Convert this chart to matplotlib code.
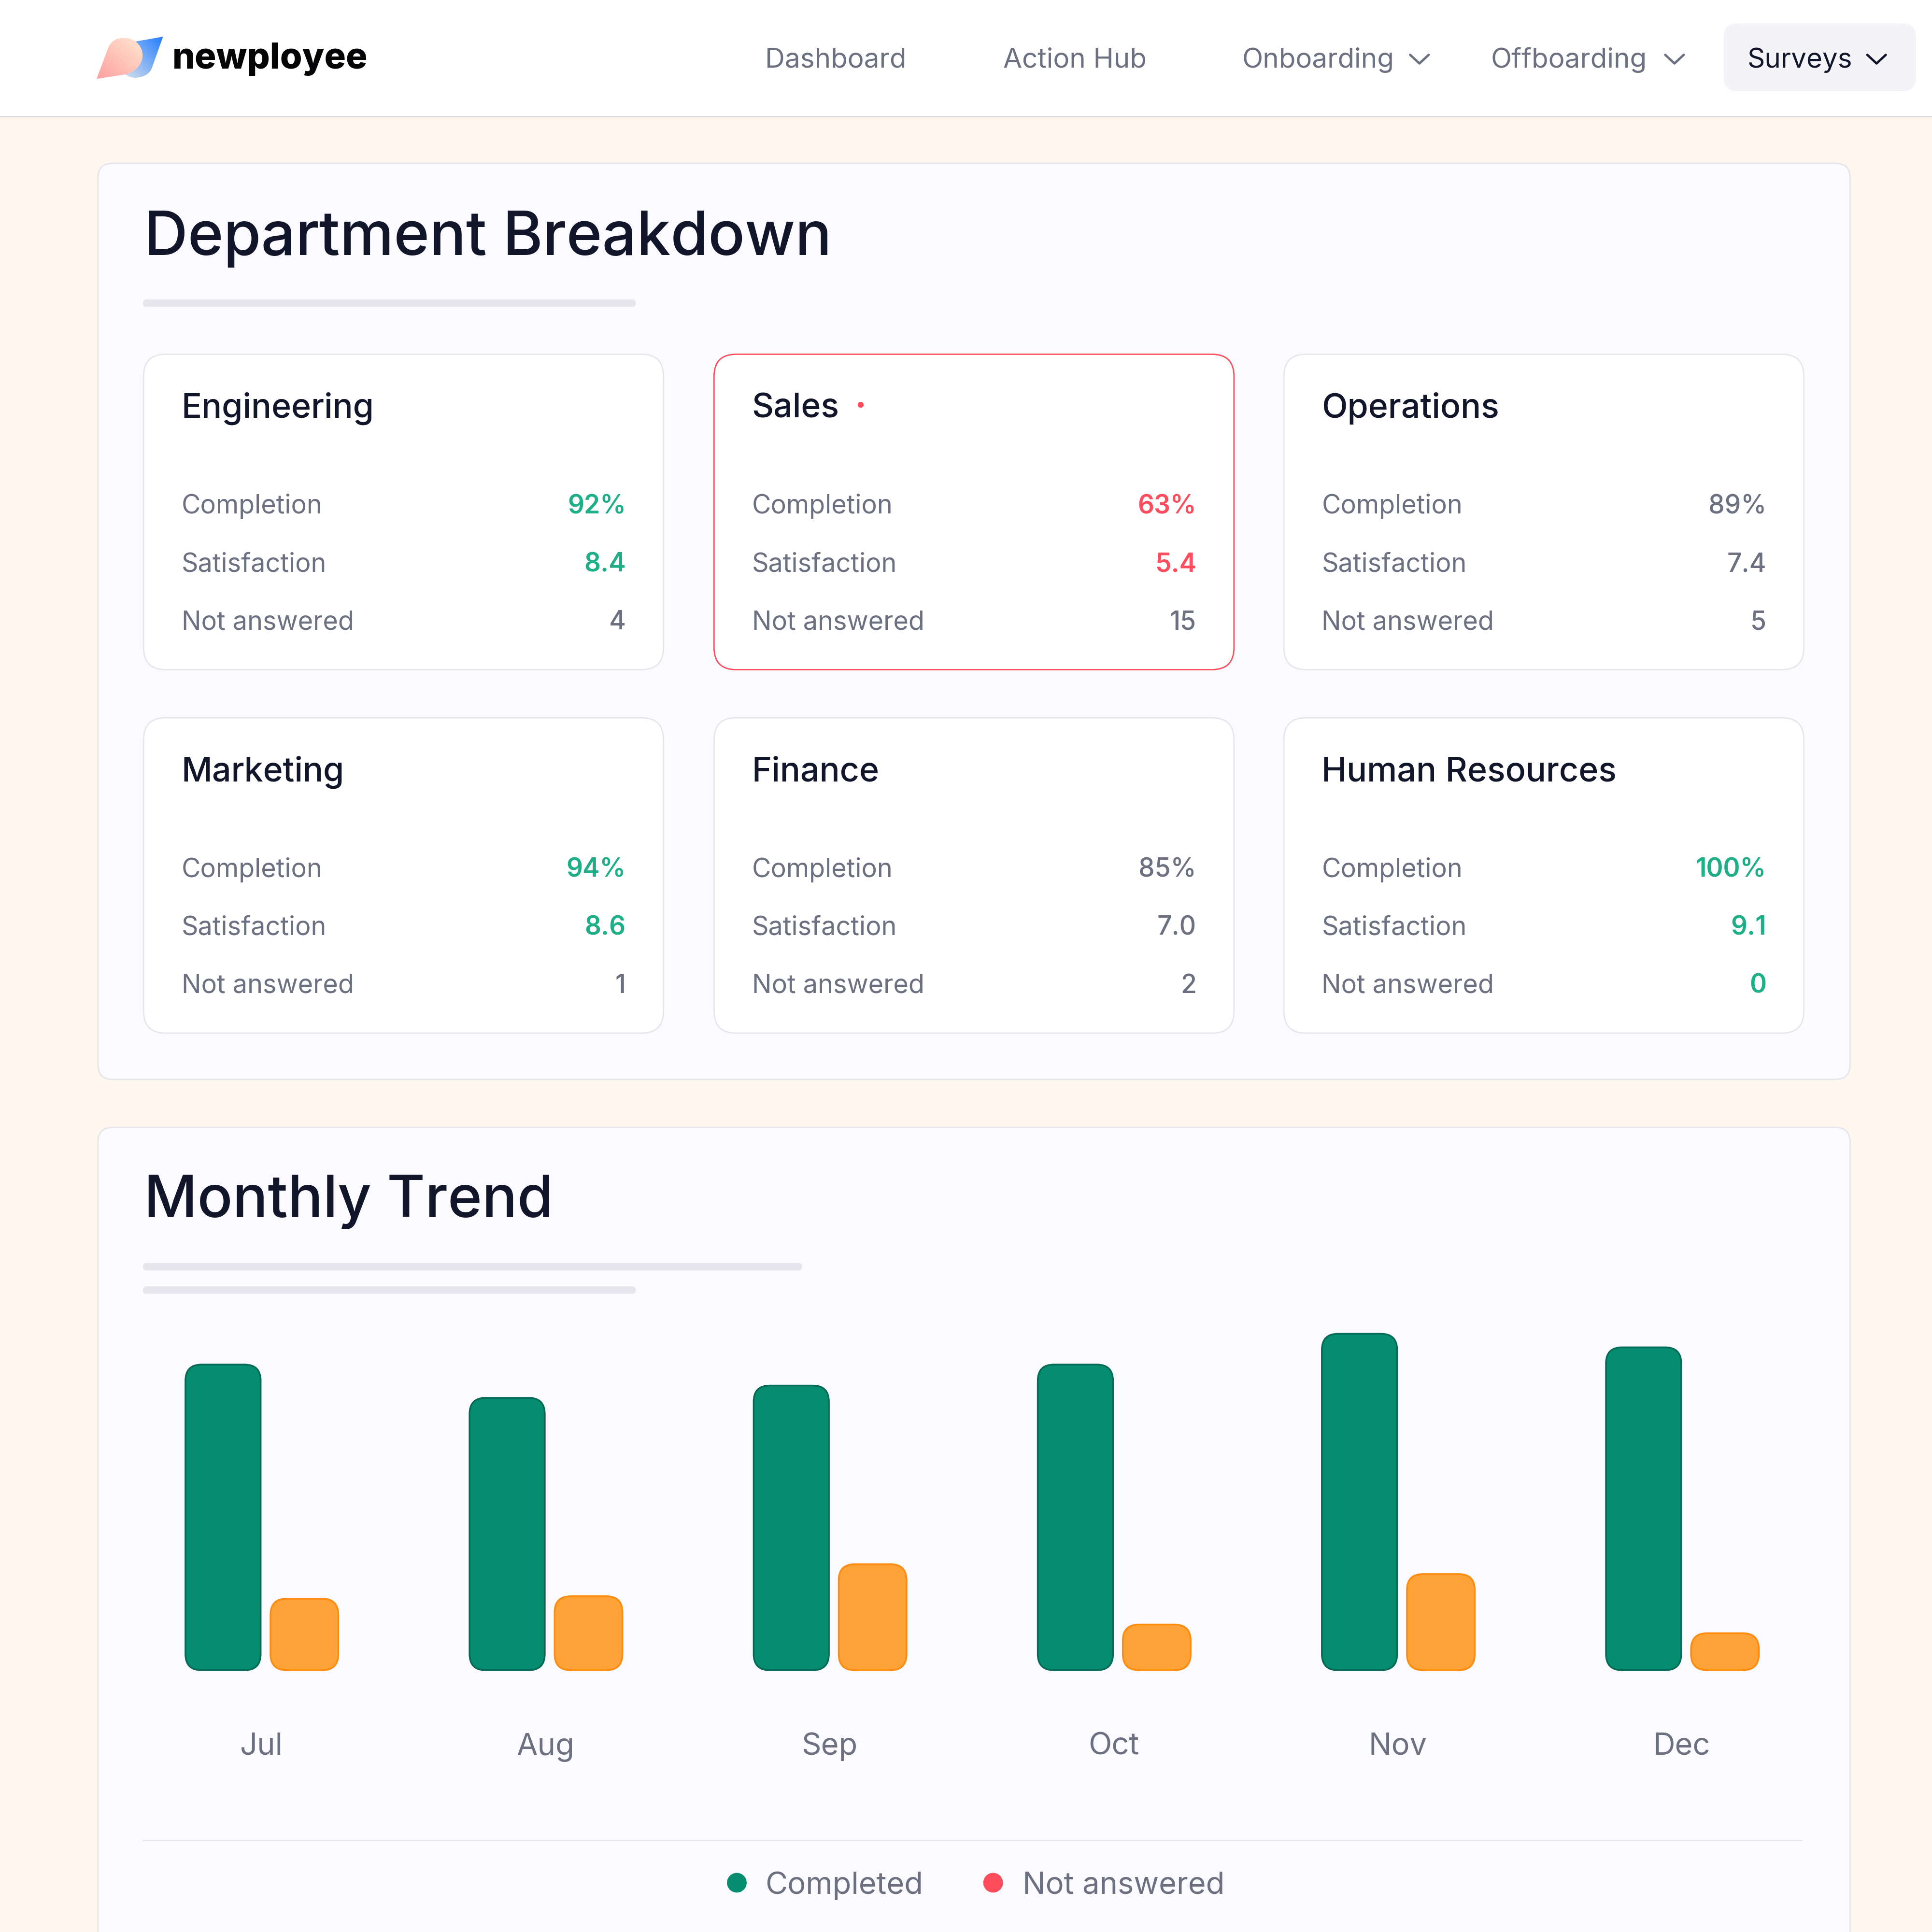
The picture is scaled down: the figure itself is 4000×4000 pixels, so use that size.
# -*- coding: utf-8 -*-
"""newployee survey dashboard: department cards + monthly trend bars."""
import matplotlib
matplotlib.use("Agg")
import matplotlib.pyplot as plt
import numpy as np
from matplotlib.colors import LinearSegmentedColormap
from matplotlib.patches import Circle, FancyBboxPatch, PathPatch, Rectangle
from matplotlib.path import Path as MPath

plt.rcParams["font.family"] = ["Inter", "DejaVu Sans"]

NAV_ITEMS = ["Dashboard", "Action Hub", "Onboarding", "Offboarding", "Surveys"]
DEPARTMENTS = ["Engineering", "Sales", "Operations", "Marketing", "Finance", "Human Resources"]
COMPLETION = [92, 63, 89, 94, 85, 100]
SATISFACTION = [8.4, 5.4, 7.4, 8.6, 7.0, 9.1]
NOT_ANSWERED = [4, 15, 5, 1, 2, 0]
ROW_LABELS = ["Completion", "Satisfaction", "Not answered"]

MONTHS = ["Jul", "Aug", "Sep", "Oct", "Nov", "Dec"]
# no axis in the picture, so bar heights are in screen units
TREND_COMPLETED = [249, 222, 232, 249, 274, 263]
TREND_NOT_ANSWERED = [59, 61, 87, 38, 79, 31]
LEGEND_LABELS = ["Completed", "Not answered"]

INK = "#12162A"; MUTED = "#6C7080"; LINE = "#E6E6EC"; PANEL = "#FAFAFF"; PAGE = "#FFF7EE"
GOOD = "#1DB088"; BAD = "#FF4D5E"
GREEN = "#068D6F"; GREEN_EDGE = "#046B58"; ORANGE = "#FFA338"; ORANGE_EDGE = "#FF8C0F"

S = 4000 / 1568  # layout below is measured on a 1568 px wide view
PT = 72 / 400 * S  # line widths: view px to points

fig = plt.figure(figsize=(10, 10), dpi=400, facecolor=PAGE)
ax = fig.add_axes([0, 0, 1, 1])
ax.set_axis_off()


def box(x0, y0, x1, y1, r, fc, ec="none", lw=0.0, z=1):
    p = FancyBboxPatch((x0, y0), x1 - x0, y1 - y0, boxstyle=f"round,pad=0,rounding_size={r}",
                       fc=fc, ec=ec, lw=lw * PT, zorder=z)
    ax.add_patch(p)
    return p


def chevron(xc, yc, color):
    ax.plot([xc - 7.5, xc, xc + 7.5], [yc - 3.5, yc + 3.5, yc - 3.5], color=color,
            lw=1.9 * PT, solid_capstyle="round", solid_joinstyle="round", zorder=4)


def gradient(path, c0, c1, extent, z):
    # diagonal wash clipped to the logo shape
    gx, gy = np.meshgrid(np.linspace(0, 1, 64), np.linspace(0, 1, 64))
    cmap = LinearSegmentedColormap.from_list("g", [c0, c1])
    im = ax.imshow((gx + gy) / 2, cmap=cmap, extent=extent, aspect="auto", zorder=z, origin="upper")
    clip = PathPatch(path, fc="none", ec="none", transform=ax.transData)
    ax.add_patch(clip)
    im.set_clip_path(clip)


# ---- page chrome ----
ax.add_patch(Rectangle((0, 0), 1568, 94.5, fc="white", ec="none", zorder=1))
ax.plot([0, 1568], [94.5, 94.5], color="#D9D9E0", lw=1.0 * PT, zorder=2)

# logo
M, L, C = MPath.MOVETO, MPath.LINETO, MPath.CURVE4
blue = MPath([(109.9, 33.7), (132.3, 29.8), (123.6, 54.2),
              (122, 60), (116, 63.1), (109.6, 63.1),
              (106, 63.1), (104, 62), (101.7, 60.4),
              (105, 45), (109.9, 33.7)],
             [M, L, L, C, C, C, C, C, C, L, MPath.CLOSEPOLY])
gradient(blue, "#DDE3EC", "#1F7BFF", (100, 133, 29, 65), 2)
pink = MPath([(78.4, 64), (87.7, 39.2),
              (90, 33), (95, 30.7), (100.8, 30.7),
              (108, 30.7), (115.7, 36), (115.7, 45.1),
              (115.7, 52), (110, 58.5), (101.7, 60.4),
              (78.4, 64)],
             [M, L, C, C, C, C, C, C, C, C, C, MPath.CLOSEPOLY])
gradient(pink, "#FF9F9F", "#FFE6D2", (78, 116, 31, 64.5), 3)
ax.text(140, 55.5, "newployee", fontsize=13.35, fontweight=800, color="#050508", zorder=4)

box(1399, 19, 1555, 74, 11, "#F3F3F8", z=2)
for label, xt in zip(NAV_ITEMS, [621, 814, 1008, 1210, 1418]):
    ax.text(xt, 54.8, label, fontsize=10.2, color=INK if label == "Surveys" else MUTED, zorder=4)
chevron(1152, 48, MUTED)
chevron(1359, 48, MUTED)
chevron(1523, 48, INK)

# ---- panels ----
box(79.5, 132.5, 1501.5, 876, 12, PANEL, LINE, 1.2)
box(79.5, 915, 1501.5, 1640, 12, PANEL, LINE, 1.2)
ax.text(117, 207, "Department Breakdown", fontsize=22.65, fontweight="medium", color=INK, zorder=4)
ax.text(117, 988, "Monthly Trend", fontsize=21.8, fontweight="medium", color=INK, zorder=4)
box(116, 243, 516, 249, 3, LINE, z=2)
box(116, 1025, 651, 1031, 3, LINE, z=2)
box(116, 1044, 516, 1050, 3, LINE, z=2)


def tone(value, low, high):
    # same thresholds the colours in the cards follow
    return GOOD if value >= high else BAD if value <= low else MUTED


card_x = [116.5, 579.5, 1042]
card_y = [287.5, 582.5]
for i, name in enumerate(DEPARTMENTS):
    x0 = card_x[i % 3]
    y0 = card_y[i // 3]
    alert = name == "Sales"
    box(x0, y0, x0 + 422, y0 + 256, 18, "white", BAD if alert else LINE, 1.1, z=2)
    ax.text(x0 + 30.7, y0 + 51.5, name, fontsize=12.6, fontweight="medium", color=INK, zorder=4)
    if alert:
        ax.add_patch(Circle((x0 + 119, y0 + 41), 2.4, fc=BAD, ec="none", zorder=4))
    vals = [f"{COMPLETION[i]}%", f"{SATISFACTION[i]:.1f}", f"{NOT_ANSWERED[i]}"]
    cols = [tone(COMPLETION[i], 70, 90), tone(SATISFACTION[i], 6, 8),
            GOOD if NOT_ANSWERED[i] == 0 else MUTED]
    for j, label in enumerate(ROW_LABELS):
        yb = y0 + 129.3 + 47 * j
        ax.text(x0 + 30.7, yb, label, fontsize=9.72, color=MUTED, zorder=4)
        ax.text(x0 + 391.5, yb, vals[j], fontsize=9.6, ha="right", color=cols[j], zorder=4,
                fontweight="semibold" if cols[j] != MUTED else "medium")

# legend + rule under the bars
ax.plot([116, 1462], [1493.5, 1493.5], color=LINE, lw=1.0 * PT, zorder=2)
for label, col, xd, xt in zip(LEGEND_LABELS, [GREEN, BAD], [598, 806], [621, 830]):
    ax.add_patch(Circle((xd, 1528), 8, fc=col, ec="none", zorder=4))
    ax.text(xt, 1537, label, fontsize=11.4, color=MUTED, zorder=4)

ax.set_xlim(0, 1568)
ax.set_ylim(1568, 0)

# ---- monthly bars, one category = 230.5 view px ----
left, right = 212 - 115.25, 1365 + 115.25
top, bottom = 1060, 1356
bx = fig.add_axes([left / 1568, 1 - bottom / 1568, (right - left) / 1568, (bottom - top) / 1568])
bx.patch.set_visible(False)
for sp in bx.spines.values():
    sp.set_visible(False)
x = np.arange(len(MONTHS))
UNIT = 230.5  # view px per category
w_green, w_orange = 61 / UNIT, 55 / UNIT
bars_c = bx.bar(x - 31 / UNIT, TREND_COMPLETED, w_green, color="none")
bars_n = bx.bar(x + 35 / UNIT, TREND_NOT_ANSWERED, w_orange, color="none")
bx.set_xlim(-0.5, 5.5)
bx.set_ylim(0, bottom - top)
bx.set_yticks([])
bx.set_xticks(x, MONTHS, fontsize=11.4, color=MUTED)
bx.tick_params(axis="x", length=0, pad=23)
# round the bar shapes: rounding_size is in x units, aspect takes it to y units
for bars, fc, ec in [(bars_c, GREEN, GREEN_EDGE), (bars_n, ORANGE, ORANGE_EDGE)]:
    for b in bars:
        bx.add_patch(FancyBboxPatch((b.get_x(), 0.5), b.get_width(), b.get_height() - 1,
                                    boxstyle=f"round,pad=0,rounding_size={13 / UNIT}",
                                    mutation_aspect=UNIT, fc=fc, ec=ec, lw=1.4 * PT, clip_on=False))

fig.savefig("out.png", dpi=400, facecolor=PAGE)
